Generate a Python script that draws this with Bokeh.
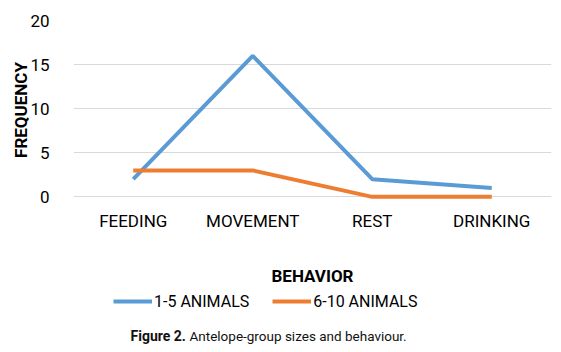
from bokeh.plotting import figure
from bokeh.models import Legend, LegendItem, Label, FactorRange
from bokeh.layouts import column
from bokeh.embed import file_html
from bokeh.resources import INLINE

categories = ["FEEDING", "MOVEMENT", "REST", "DRINKING"]
animals_1_5 = [2, 16, 2, 1]
animals_6_10 = [3, 3, 0, 0]
series_names = ["1-5 ANIMALS", "6-10 ANIMALS"]
series_colors = ["#5b9bd5", "#ed7d31"]
y_ticks = [0, 5, 10, 15, 20]

FONT = "Roboto"

p = figure(width=561, height=288, x_range=FactorRange(*categories, range_padding=0),
           y_range=(-0.3, 20), output_backend="svg", toolbar_location=None,
           min_border_left=73, min_border_right=10, min_border_top=20, min_border_bottom=88)
p.outline_line_color = None

p.line(categories, animals_1_5, line_color=series_colors[0], line_width=4)
p.line(categories, animals_6_10, line_color=series_colors[1], line_width=4)

p.xgrid.grid_line_color = None
p.ygrid.grid_line_color = "#d9d9d9"
p.ygrid.grid_line_width = 1
p.yaxis.ticker = y_ticks

for ax in (p.xaxis[0], p.yaxis[0]):
    ax.axis_line_color = None
    ax.major_tick_line_color = None
    ax.minor_tick_line_color = None
    ax.major_label_text_font = FONT
    ax.major_label_text_font_size = "17px"
    ax.major_label_text_color = "black"
    ax.axis_label_text_font = FONT
    ax.axis_label_text_font_style = "bold"
    ax.axis_label_text_font_size = "17px"
    ax.axis_label_text_color = "black"

p.yaxis.axis_label = "FREQUENCY"
p.yaxis.major_label_standoff = 18
p.yaxis.axis_label_standoff = -4
p.xaxis.axis_label = "BEHAVIOR"
p.xaxis.major_label_standoff = 5
p.xaxis.axis_label_standoff = 32

# legend + caption strip
q = figure(width=561, height=64, x_range=(0, 1), y_range=(0, 1),
           output_backend="svg", toolbar_location=None,
           min_border=0, min_border_left=0, min_border_right=0,
           min_border_top=0, min_border_bottom=0)
q.axis.visible = False
q.grid.visible = False
q.outline_line_color = None
nan = float("nan")
l1 = q.line([nan], [nan], line_color=series_colors[0], line_width=4)
l2 = q.line([nan], [nan], line_color=series_colors[1], line_width=4)

legend = Legend(items=[LegendItem(label=series_names[0], renderers=[l1]),
                       LegendItem(label=series_names[1], renderers=[l2])],
                orientation="horizontal", location=(40, 41),
                label_text_font=FONT, label_text_font_size="16px",
                label_text_color="black",
                glyph_width=39, spacing=23, label_standoff=2,
                padding=0, margin=0,
                border_line_color=None, background_fill_alpha=0)
q.add_layout(legend, "center")

cap1 = Label(x=57, y=17, x_units="screen", y_units="screen", text="Figure 2.",
             text_baseline="middle", text_color="#111111",
             text_font=FONT, text_font_style="bold", text_font_size="14px")
cap2 = Label(x=116, y=17, x_units="screen", y_units="screen",
             text="Antelope-group sizes and behaviour.", text_baseline="middle",
             text_color="#111111", text_font=FONT, text_font_size="13.5px")
q.add_layout(cap1)
q.add_layout(cap2)

layout = column(p, q, spacing=0)
open("out.html", "w").write(file_html(layout, INLINE))
